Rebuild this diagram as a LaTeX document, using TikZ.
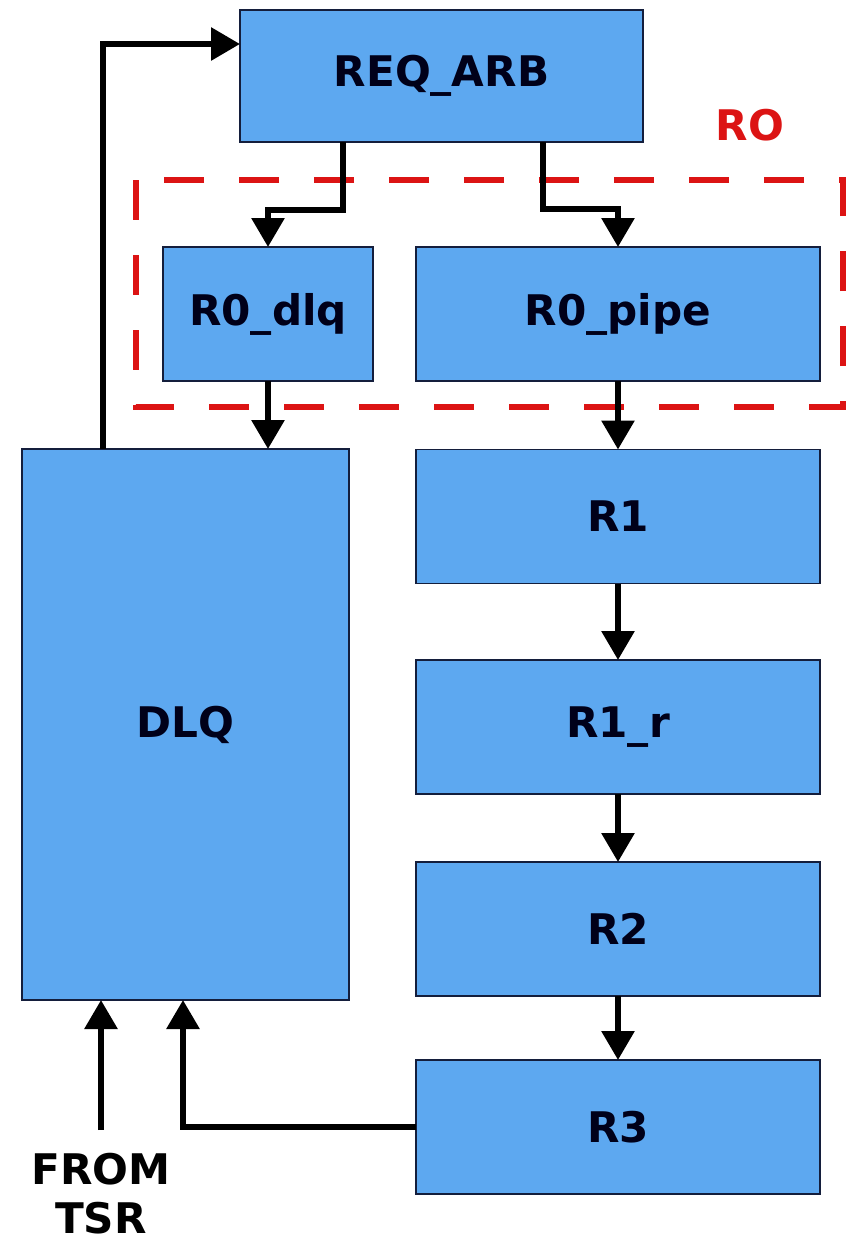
\documentclass[tikz,border=0pt]{standalone}
\usepackage{fontspec}
\setmainfont{DejaVu Sans}
\definecolor{boxblue}{RGB}{93,168,240}
\definecolor{boxline}{RGB}{20,30,60}
\definecolor{roidred}{RGB}{220,20,20}
\usetikzlibrary{arrows.meta,positioning}

\begin{document}
\begin{tikzpicture}[
  blk/.style={draw=boxline,line width=0.6pt,fill=boxblue,inner sep=0pt,
              outer sep=0pt,minimum width=8.08cm,minimum height=2.68cm,
              font=\fontsize{24}{29}\selectfont\bfseries,text=black!90!blue},
  arr/.style={line width=0.12cm,black,-{Triangle[length=0.58cm,width=0.64cm]}}]

  \useasboundingbox (0,0) rectangle (17.16,-24.96);

  \node[blk,minimum width=8.06cm,minimum height=2.64cm] (REQ) at (8.83,-1.52) {REQ\_ARB};
  \node[blk,minimum width=4.2cm] (dlq)  at (5.36,-6.28)  {R0\_dlq};
  \node[blk] (pipe) at (12.36,-6.28) {R0\_pipe};
  \node[blk,minimum width=6.54cm,minimum height=11.02cm] (DLQ) at (3.71,-14.49) {DLQ};
  \node[blk] (R1)  at (12.36,-10.33) {R1};
  \node[blk] (R1r) at (12.36,-14.54) {R1\_r};
  \node[blk] (R2)  at (12.36,-18.58) {R2};
  \node[blk] (R3)  at (12.36,-22.54) {R3};

  % RO region
  \draw[roidred,line width=0.12cm,dash pattern=on 0.8cm off 0.7cm]
    (2.72,-3.6) rectangle (16.86,-8.14);
  \node[font=\fontsize{24}{29}\selectfont\bfseries,text=roidred] (RO) at (15.0,-2.5) {RO};

  \node[font=\fontsize{24}{28}\selectfont\bfseries,align=center,inner sep=0pt] (TSR) at (2.02,-23.88) {FROM\\TSR};
  \coordinate (tsrin) at (2.02,-22.6);

  \draw[arr] ([xshift=-1.97cm]REQ.south) -- ++(0,-1.36) -| (dlq.north);
  \draw[arr] ([xshift=2.03cm]REQ.south) -- ++(0,-1.34) -| (pipe.north);
  \draw[arr] (dlq.south) -- (dlq.south |- DLQ.north);
  \draw[arr] (pipe) -- (R1);
  \draw[arr] (R1) -- (R1r);
  \draw[arr] (R1r) -- (R2);
  \draw[arr] (R2) -- (R3);
  \draw[arr] ([xshift=-1.65cm]DLQ.north) |- ([yshift=0.64cm]REQ.west);
  \draw[arr] (R3.west) -| ([xshift=-0.05cm]DLQ.south);
  \draw[arr] (tsrin) -- (tsrin |- DLQ.south);
\end{tikzpicture}
\end{document}
